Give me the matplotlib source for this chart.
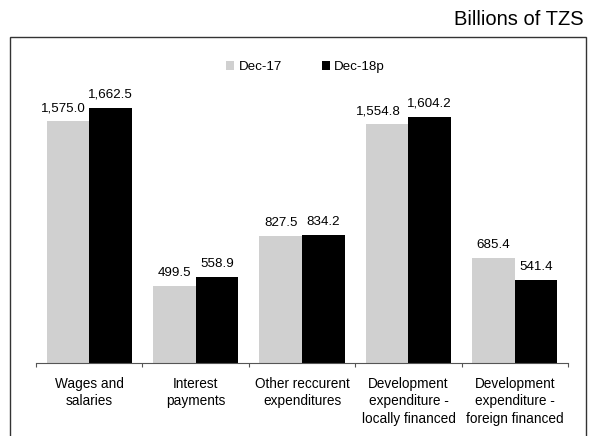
import matplotlib.pyplot as plt
import numpy as np
from matplotlib.patches import Rectangle

plt.rcParams['font.family'] = ['Liberation Sans', 'DejaVu Sans']

categories = ['Wages and\nsalaries', 'Interest\npayments', 'Other reccurent\nexpenditures',
              'Development\nexpenditure -\nlocally financed',
              'Development\nexpenditure -\nforeign financed']
dec17 = [1575.0, 499.5, 827.5, 1554.8, 685.4]
dec18p = [1662.5, 558.9, 834.2, 1604.2, 541.4]

# labels of the grey bars nudged left where they would touch the black ones
dec17_label_shift = [-3, 0, 0, -6.5, 0]

bar_width = 0.4
x = np.arange(len(categories))

fig = plt.figure(figsize=(5.93, 4.36), dpi=100)
ax = fig.add_axes([0.0607, 0.1674, 0.8973, 0.704])

b1 = ax.bar(x - bar_width / 2, dec17, width=bar_width, color='#d0d0d0', label='Dec-17')
b2 = ax.bar(x + bar_width / 2, dec18p, width=bar_width, color='black', label='Dec-18p')

for bars, vals, shifts in [(b1, dec17, dec17_label_shift), (b2, dec18p, [0] * len(dec18p))]:
    for rect, v, dx in zip(bars, vals, shifts):
        ax.annotate(f'{v:,.1f}', (rect.get_x() + rect.get_width() / 2, v),
                    xytext=(dx, 5), textcoords='offset points',
                    ha='center', va='bottom', fontsize=9.6)

ax.set_xlim(-0.5, len(categories) - 0.5)
ax.set_ylim(0, 2000)
ax.set_xticks(np.arange(len(categories) + 1) - 0.5)
ax.set_xticklabels([])
ax.set_xticks(x, minor=True)
ax.set_xticklabels(categories, minor=True, fontsize=9.8, linespacing=1.3)
ax.tick_params(axis='x', which='major', length=3, color='#555555', width=0.8)
ax.tick_params(axis='x', which='minor', length=0, pad=10)
ax.set_yticks([])
for s in ['left', 'right', 'top']:
    ax.spines[s].set_visible(False)
ax.spines['bottom'].set_color('#555555')
ax.spines['bottom'].set_linewidth(0.8)

fig.legend(loc='center', bbox_to_anchor=(0.515, 0.846), ncol=2, frameon=False,
           fontsize=9.6, handlelength=0.6, handleheight=0.6, handletextpad=0.3,
           columnspacing=3.0)

fig.text(0.985, 0.955, 'Billions of TZS', ha='right', va='center', fontsize=14.5)

fig.patches.append(Rectangle((0.0169, -0.01), 0.971, 0.925, transform=fig.transFigure,
                             fill=False, edgecolor='#333333', linewidth=1.0))

fig.savefig('out.png', dpi=100)
